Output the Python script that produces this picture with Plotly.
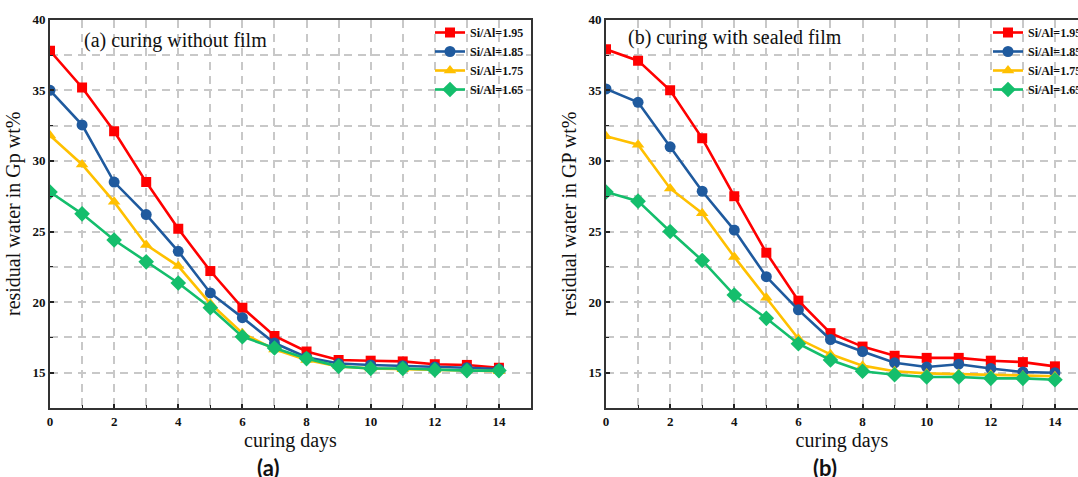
import plotly.graph_objects as go

# Curing time (days)
days = list(range(15))

# Series labels (Si/Al molar ratio)
ratios = ["Si/Al=1.95", "Si/Al=1.85", "Si/Al=1.75", "Si/Al=1.65"]

# Residual water (wt%) - curing without film
open_195 = [37.8, 35.2, 32.1, 28.5, 25.2, 22.2, 19.6, 17.6, 16.5, 15.9, 15.85, 15.8, 15.6, 15.55, 15.35]
open_185 = [35.0, 32.55, 28.5, 26.2, 23.6, 20.65, 18.9, 17.1, 16.1, 15.65, 15.55, 15.5, 15.4, 15.35, 15.25]
open_175 = [31.8, 29.75, 27.1, 24.05, 22.55, 19.9, 17.8, 16.65, 15.9, 15.45, 15.3, 15.25, 15.2, 15.2, 15.1]
open_165 = [27.8, 26.25, 24.4, 22.85, 21.35, 19.6, 17.55, 16.75, 16.0, 15.45, 15.3, 15.3, 15.2, 15.15, 15.15]

# Residual water (wt%) - curing with sealed film
sealed_195 = [37.9, 37.1, 35.0, 31.6, 27.5, 23.5, 20.1, 17.8, 16.85, 16.2, 16.05, 16.05, 15.85, 15.75, 15.45]
sealed_185 = [35.1, 34.15, 31.0, 27.85, 25.1, 21.8, 19.45, 17.35, 16.5, 15.7, 15.4, 15.6, 15.3, 15.05, 15.0]
sealed_175 = [31.75, 31.15, 28.05, 26.3, 23.2, 20.3, 17.4, 16.3, 15.5, 15.1, 14.95, 14.9, 14.85, 14.8, 14.75]
sealed_165 = [27.8, 27.15, 25.0, 22.95, 20.5, 18.85, 17.05, 15.9, 15.1, 14.85, 14.7, 14.7, 14.6, 14.6, 14.5]

x_ticks = [0, 2, 4, 6, 8, 10, 12, 14]
y_ticks = [15, 20, 25, 30, 35, 40]

colors = ["#FF0000", "#1F5A9E", "#FFC000", "#14BE6C"]
symbols = ["square", "circle", "triangle-up", "diamond"]
sizes = [10, 11, 11, 12]

W, H = 1078, 477
SERIF = "Liberation Serif, Times New Roman, serif"

fig = go.Figure()

panels = [
    ([open_195, open_185, open_175, open_165], "x", "y", "legend"),
    ([sealed_195, sealed_185, sealed_175, sealed_165], "x2", "y2", "legend2"),
]
for series, xa, ya, lg in panels:
    for name, vals, c, s, sz in zip(ratios, series, colors, symbols, sizes):
        fig.add_trace(go.Scatter(
            x=days, y=vals, name=name, mode="lines+markers",
            xaxis=xa, yaxis=ya, legend=lg,
            line=dict(color=c, width=2.6),
            marker=dict(symbol=s, size=sz, color=c, line=dict(width=0)),
        ))

tickfont = dict(family=SERIF, size=13, color="#111111", weight="bold")
titlefont = dict(family=SERIF, size=20, color="#111111")
grid = dict(showgrid=True, gridcolor="#C8C8C8", gridwidth=1.5, griddash="8px,6px")


def xaxis(domain, rng, anchor):
    return dict(
        domain=domain, range=rng, anchor=anchor,
        tickvals=x_ticks, ticks="inside", ticklen=4, tickwidth=1.5, tickcolor="#222222",
        tickfont=tickfont, showline=True, linecolor="#333333", linewidth=2, mirror=True,
        minor=dict(dtick=1, tick0=0, ticks="inside", ticklen=3, tickwidth=1.2,
                   tickcolor="#222222", **grid),
        zeroline=False, automargin=False,
        title=dict(text="curing days", font=titlefont, standoff=5),
        **grid,
    )


def yaxis(domain, anchor, title, mirror=True):
    return dict(
        domain=domain, range=[12.5, 40], anchor=anchor,
        tickvals=y_ticks, ticks="inside", ticklen=4, tickwidth=1.5, tickcolor="#222222",
        tickfont=tickfont, showline=True, linecolor="#333333", linewidth=2, mirror=mirror,
        minor=dict(dtick=2.5, tick0=0, ticks="inside", ticklen=3, tickwidth=1.2,
                   tickcolor="#222222", **grid),
        zeroline=False, automargin=False,
        title=dict(text=title, font=titlefont, standoff=6),
        **grid,
    )


y_dom = [1 - 408 / H, 1 - 19.7 / H]
left_dom = [50 / W, 531 / W]
right_dom = [606 / W, 1.0]
# right panel runs past the page edge; its range stops where the page ends
right_max = (W - 606) / ((531 - 50) / 15)

legend_style = dict(
    font=dict(family=SERIF, size=12, color="#111111", weight="bold"),
    bgcolor="rgba(0,0,0,0)", borderwidth=0, xref="paper", yref="paper",
    xanchor="left", yanchor="top", itemwidth=30, tracegroupgap=0,
)

fig.update_layout(
    width=W, height=H,
    margin=dict(l=0, r=0, t=0, b=0, pad=0, autoexpand=False),
    paper_bgcolor="white", plot_bgcolor="white",
    showlegend=True,
    xaxis=xaxis(left_dom, [0, 15], "y"),
    yaxis=yaxis(y_dom, "x", "residual water in Gp wt%"),
    xaxis2=xaxis(right_dom, [0, right_max], "y2"),
    yaxis2=yaxis(y_dom, "x2", "residual water in GP wt%"),
    legend=dict(x=430 / W, y=1 - 18 / H, **legend_style),
    legend2=dict(x=988 / W, y=1 - 18 / H, **legend_style),
    annotations=[
        dict(text="(a) curing without film", x=82 / W, y=1 - 40 / H, xref="paper", yref="paper",
             xanchor="left", yanchor="middle", showarrow=False,
             font=dict(family=SERIF, size=20, color="#111111")),
        dict(text="(b) curing with sealed film", x=626 / W, y=1 - 37 / H, xref="paper", yref="paper",
             xanchor="left", yanchor="middle", showarrow=False,
             font=dict(family=SERIF, size=20, color="#111111")),
        dict(text="(a)", x=268 / W, y=1 - 467 / H, xref="paper", yref="paper",
             xanchor="center", yanchor="middle", showarrow=False,
             font=dict(family="Lato, Open Sans, sans-serif", size=22, color="#111111", weight="bold")),
        dict(text="(b)", x=825 / W, y=1 - 467 / H, xref="paper", yref="paper",
             xanchor="center", yanchor="middle", showarrow=False,
             font=dict(family="Lato, Open Sans, sans-serif", size=22, color="#111111", weight="bold")),
    ],
)

fig.write_html("out.html")
